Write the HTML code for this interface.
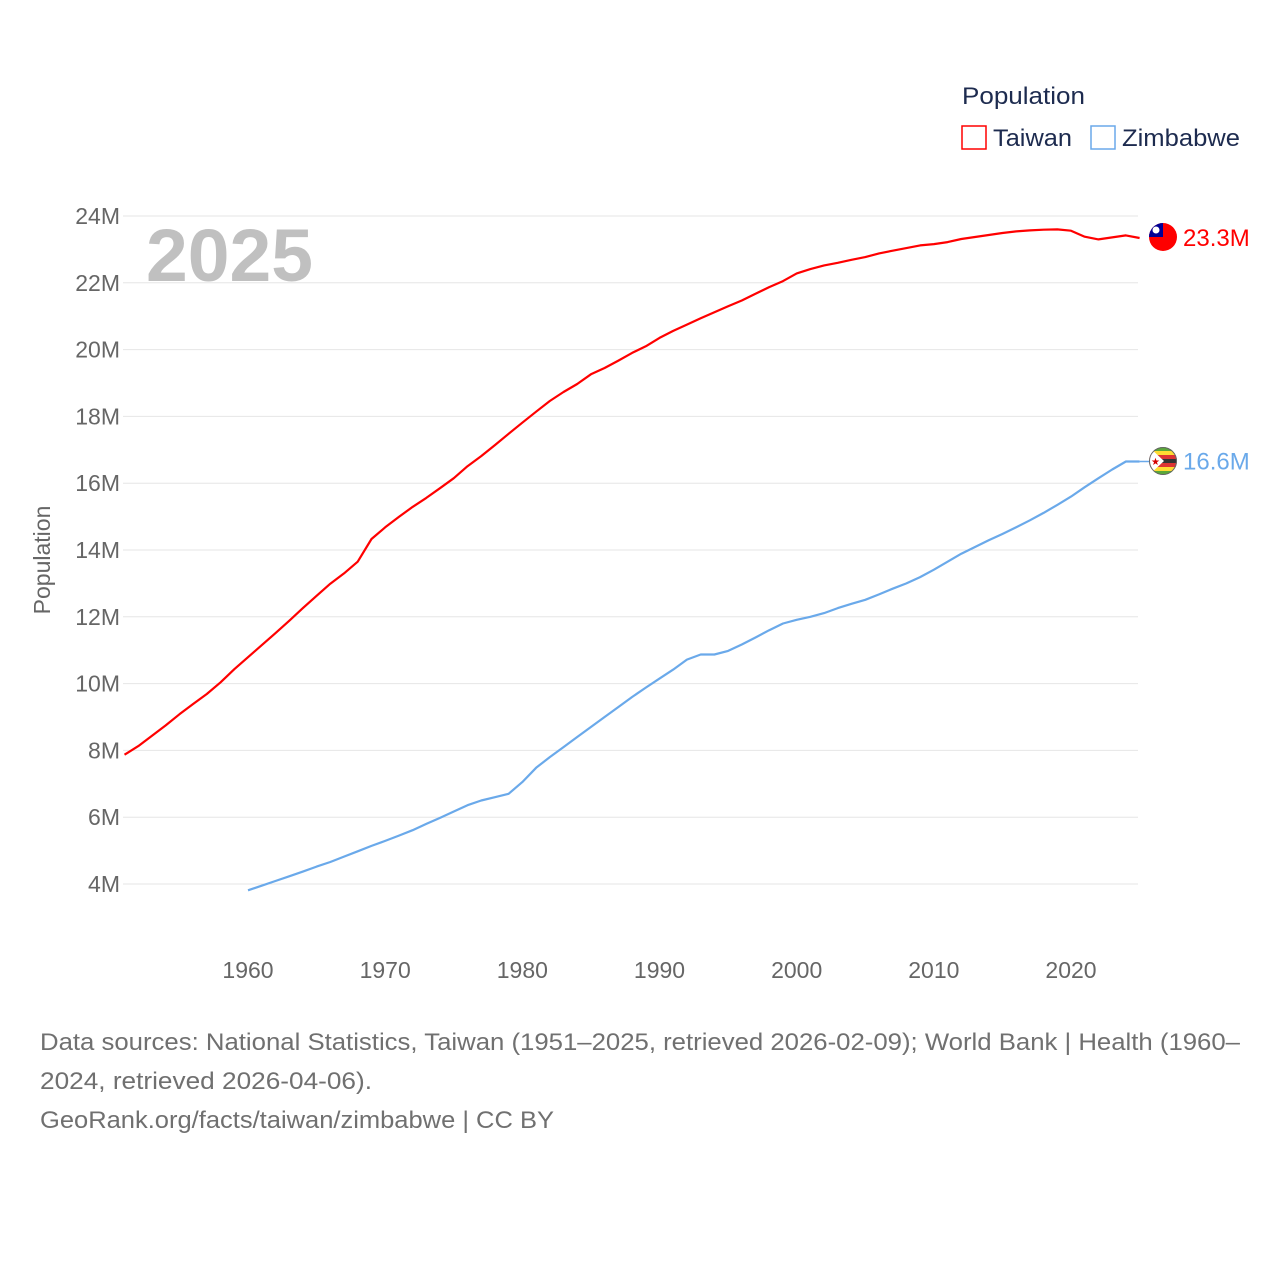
<!DOCTYPE html>
<html><head><meta charset="utf-8"><style>
body{margin:0;background:#fff;}
svg text{font-family:"Liberation Sans",sans-serif;}
</style></head><body>
<svg width="1280" height="1280" xmlns="http://www.w3.org/2000/svg" id="chart">
<defs>
<clipPath id="clipTw"><circle cx="1163" cy="237" r="14"/></clipPath>
<clipPath id="clipZw"><circle cx="1163" cy="461" r="14"/></clipPath>
</defs>
<rect width="1280" height="1280" fill="#fff"/>
<g id="grid"></g>
<g id="yticks"></g>
<g id="xticks"></g>
<text x="146" y="281" font-size="74" font-weight="bold" fill="#c0c0c0" textLength="167" lengthAdjust="spacingAndGlyphs">2025</text>
<text transform="translate(50,560) rotate(-90)" text-anchor="middle" font-size="23" fill="#666">Population</text>
<g id="series"></g>
<text x="962" y="104" font-size="24" fill="#1d2b4f" textLength="123" lengthAdjust="spacingAndGlyphs">Population</text>
<g><rect x="962" y="126" width="24" height="23" fill="none" stroke="#f00" stroke-width="1.5"/><text x="993" y="146" font-size="24" fill="#1d2b4f" textLength="79" lengthAdjust="spacingAndGlyphs">Taiwan</text></g>
<g><rect x="1091" y="126" width="24" height="23" fill="none" stroke="#6aa9ea" stroke-width="1.5"/><text x="1122" y="146" font-size="24" fill="#1d2b4f" textLength="118" lengthAdjust="spacingAndGlyphs">Zimbabwe</text></g>
<text x="40" y="1050" font-size="24" fill="#707070" textLength="1200" lengthAdjust="spacingAndGlyphs">Data sources: National Statistics, Taiwan (1951–2025, retrieved 2026-02-09); World Bank | Health (1960–</text>
<text x="40" y="1089" font-size="24" fill="#707070" textLength="332" lengthAdjust="spacingAndGlyphs">2024, retrieved 2026-04-06).</text>
<text x="40" y="1128" font-size="24" fill="#707070" textLength="514" lengthAdjust="spacingAndGlyphs">GeoRank.org/facts/taiwan/zimbabwe | CC BY</text>
</svg>
<script>
const yTicks=[4,6,8,10,12,14,16,18,20,22,24];
const xTicks=[1960,1970,1980,1990,2000,2010,2020];
const twYears=[];for(let y=1951;y<=2025;y++)twYears.push(y);
const twValues=[7.87,8.13,8.44,8.75,9.08,9.39,9.69,10.04,10.43,10.79,11.15,11.51,11.88,12.26,12.63,12.99,13.30,13.65,14.33,14.68,14.99,15.29,15.56,15.85,16.15,16.51,16.81,17.14,17.48,17.81,18.14,18.46,18.73,18.97,19.26,19.45,19.67,19.90,20.10,20.35,20.56,20.75,20.94,21.12,21.30,21.47,21.67,21.87,22.05,22.28,22.41,22.52,22.60,22.69,22.77,22.88,22.96,23.04,23.12,23.16,23.22,23.31,23.37,23.43,23.49,23.54,23.57,23.59,23.60,23.56,23.38,23.30,23.36,23.42,23.34];
const zwYears=[];for(let y=1960;y<=2025;y++)zwYears.push(y);
const zwValues=[3.81,3.95,4.09,4.23,4.37,4.52,4.66,4.82,4.98,5.14,5.29,5.45,5.61,5.80,5.98,6.17,6.36,6.50,6.60,6.70,7.05,7.48,7.80,8.10,8.40,8.70,9.00,9.30,9.60,9.88,10.15,10.42,10.72,10.87,10.87,10.98,11.17,11.38,11.60,11.80,11.91,12.00,12.11,12.26,12.39,12.51,12.67,12.84,13.00,13.19,13.41,13.65,13.89,14.09,14.29,14.48,14.68,14.89,15.11,15.35,15.60,15.88,16.15,16.41,16.65,16.65];
const NS="http://www.w3.org/2000/svg";
const X=y=>248+(y-1960)*13.717;
const Y=v=>884-(v-4)*33.4;
function mk(tag,attrs,parent,txt){const e=document.createElementNS(NS,tag);for(const k in attrs)e.setAttribute(k,attrs[k]);if(txt)e.textContent=txt;parent.appendChild(e);return e;}
const grid=document.getElementById('grid'),yg=document.getElementById('yticks'),xg=document.getElementById('xticks'),sg=document.getElementById('series');
yTicks.forEach(v=>{
 const l=mk('line',{x1:123,x2:1138,y1:Y(v),y2:Y(v),stroke:'#e6e6e6','stroke-width':1},grid);
 
 
 const t=mk('text',{x:120,y:Y(v)+8,'text-anchor':'end','font-size':23,fill:'#666'},yg,v+'M');
 
 
});
xTicks.forEach(y=>{
 const t=mk('text',{x:X(y),y:978,'text-anchor':'middle','font-size':23,fill:'#666'},xg,String(y));
 
 
});
function line(years,vals,color,name){
 const d=years.map((y,i)=>(i?'L':'M')+X(y).toFixed(1)+','+Y(vals[i]).toFixed(1)).join('');
 const p=mk('path',{d:d,fill:'none',stroke:color,'stroke-width':2.2,'stroke-linejoin':'round'},sg);
 
 
}
line(twYears,twValues,'#ff0000','taiwan-line');
line(zwYears,zwValues,'#6aa9ea','zimbabwe-line');
const tv=twValues[twValues.length-1],zv=zwValues[zwValues.length-1];
mk('line',{x1:X(2025),x2:1150,y1:Y(zv),y2:Y(zv),stroke:'#6aa9ea','stroke-width':1.5},sg);
const g1=mk('g',{'clip-path':'url(#clipTw)'},sg);


mk('rect',{x:1149,y:223,width:28,height:28,fill:'#fe0000'},g1);
mk('rect',{x:1149,y:223,width:14,height:14,fill:'#000095'},g1);
mk('circle',{cx:1156,cy:230,r:3.5,fill:'#fff'},g1);
const g2=mk('g',{'clip-path':'url(#clipZw)'},sg);


['#319208','#ffd200','#d40000','#000','#d40000','#ffd200','#319208'].forEach((c,i)=>mk('rect',{x:1149,y:447+i*4,width:28,height:4,fill:c,opacity:0.8},g2));
mk('path',{d:'M1149,447L1164,461L1149,475Z',fill:'#fff'},g2);
mk('text',{x:1151,y:465,'font-size':10,fill:'#d40000'},g2,'★');
mk('circle',{cx:1163,cy:461,r:13.5,fill:'none',stroke:'#666','stroke-width':1},sg);
const l1=mk('text',{x:1183,y:Y(tv)+8,'font-size':24,fill:'#ff0000'},sg,tv.toFixed(1)+'M');


const l2=mk('text',{x:1183,y:Y(zv)+8,'font-size':24,fill:'#6aa9ea'},sg,zv.toFixed(1)+'M');


</script>
</body></html>
